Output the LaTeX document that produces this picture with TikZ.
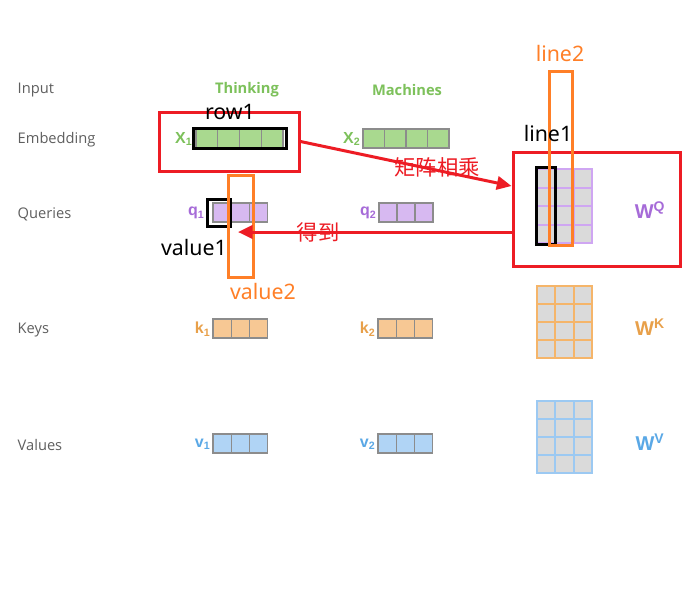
\documentclass[tikz,border=0pt]{standalone}
\usepackage{fontspec}
\setmainfont{Open Sans}
\newfontfamily\notefont{Noto Sans}
\newfontfamily\vecfont{Liberation Sans}
\newfontfamily\cjkfont{Noto Sans CJK SC}
\usetikzlibrary{arrows.meta, calc, fit, positioning}

\definecolor{rowgray}{HTML}{5F5F5F}
\definecolor{cellgray}{HTML}{8C8C8C}
\definecolor{matgray}{HTML}{DADADA}
\definecolor{embgreen}{HTML}{7DC15B}
\definecolor{embfill}{HTML}{A9D98F}
\definecolor{qpurple}{HTML}{A66BD8}
\definecolor{qfill}{HTML}{D7B9F1}
\definecolor{qline}{HTML}{CFA6F2}
\definecolor{korange}{HTML}{E8A04A}
\definecolor{kfill}{HTML}{F7C894}
\definecolor{kline}{HTML}{F5B56A}
\definecolor{vblue}{HTML}{5AA8E6}
\definecolor{vfill}{HTML}{B0D4F5}
\definecolor{vline}{HTML}{9CC9F2}
\definecolor{notered}{HTML}{ED1C24}
\definecolor{noteorange}{HTML}{FF7F27}

\tikzset{
  rowtext/.style={font=\fontsize{11}{13}\selectfont, text=rowgray, anchor=west},
  wordtext/.style={font=\fontsize{11}{13}\selectfont\bfseries},
  sublabel/.style={font=\vecfont\fontsize{12}{14}\selectfont\bfseries, anchor=east, inner sep=1pt},
  wlabel/.style={font=\vecfont\fontsize{15}{17}\selectfont\bfseries},
  cellline/.style={draw=cellgray, line width=0.8pt},
  notebox/.style={draw=#1, line width=2.25pt, inner sep=0pt},
  notetext/.style={font=\notefont\fontsize{16}{18}\selectfont, anchor=base},
  cjktext/.style={font=\cjkfont\fontsize{16}{18}\selectfont, text=notered},
  redarrow/.style={draw=notered, line width=2.25pt, -{Triangle[length=11pt,width=10pt]}}
}

% one row vector: top-left corner, number of cells, cell width, fill
\newcommand{\cellrow}[4]{%
  \foreach \k in {1,...,#2} {
    \draw[cellline, fill=#4] ($(#1)+(#3*\k-#3,0)$) rectangle ++(#3,19);
  }
}
% 3x4 weight matrix: top-left corner, border colour, row height
\newcommand{\cellgrid}[3]{%
  \foreach \c in {0,1,2} {
    \foreach \r in {0,...,3} {
      \draw[line width=1.5pt, draw=#2, fill=matgray] ($(#1)+(18.3*\c,#3*\r)$) rectangle ++(18.3,#3);
    }
  }
}

\begin{document}
\begin{tikzpicture}[x=0.75pt, y=-0.75pt]
      \fill[white] (0,0) rectangle (692,604);
      \useasboundingbox (0,0) rectangle (692,604);

      % row names
      \node[rowtext] (input) at (13,90) {Input};
      \node[rowtext] (embedding) at (13,140) {Embedding};
      \node[rowtext] (queries) at (13,214) {Queries};
      \node[rowtext] (keys) at (13,330) {Keys};
      \node[rowtext] (values) at (13,445) {Values};

      \node[wordtext, text=embgreen] (thinking) at (247,90) {Thinking};
      \node[wordtext, text=embgreen] (machines) at (407,90) {Machines};

      % red boxes
      \node[notebox=notered, fit={(159,112) (299,171)}] (embbox) {};
      \node[notebox=notered, fit={(513,152) (680,266)}] (wqbox) {};

      % vectors
      \cellrow{196,129}{4}{21.75}{embfill}
      \cellrow{363,129}{4}{21.5}{embfill}
      \node[sublabel, text=embgreen] (x1lab) at (194,139) {X\textsubscript{1}};
      \node[sublabel, text=embgreen] (x2lab) at (362,139) {X\textsubscript{2}};

      \cellrow{213,203}{3}{18.3}{qfill}
      \cellrow{379,203}{3}{18}{qfill}
      \node[sublabel, text=qpurple] (q1lab) at (206,213) {q\textsubscript{1}};
      \node[sublabel, text=qpurple] (q2lab) at (378,213) {q\textsubscript{2}};

      \cellrow{213,319}{3}{18.3}{kfill}
      \cellrow{378,319}{3}{18.3}{kfill}
      \node[sublabel, text=korange] (k1lab) at (212,329) {k\textsubscript{1}};
      \node[sublabel, text=korange] (k2lab) at (377,329) {k\textsubscript{2}};

      \cellrow{213,434}{3}{18.3}{vfill}
      \cellrow{378,434}{3}{18.3}{vfill}
      \node[sublabel, text=vblue] (v1lab) at (212,444) {v\textsubscript{1}};
      \node[sublabel, text=vblue] (v2lab) at (377,444) {v\textsubscript{2}};

      % weight matrices
      \cellgrid{537,169}{qline}{18.5}
      \cellgrid{537,286}{kline}{18}
      \cellgrid{537,401}{vline}{18}
      \node[wlabel, text=qpurple] (wq) at (650,210) {W\textsuperscript{Q}};
      \node[wlabel, text=korange] (wk) at (650,327) {W\textsuperscript{K}};
      \node[wlabel, text=vblue] (wv) at (650,442) {W\textsuperscript{V}};

      % black and orange marks
      \node[notebox=black, fit={(193,128) (286,148)}] (rowbox) {};
      \node[notebox=black, fit={(207,199) (230,226)}] (valbox) {};
      \node[notebox=black, fit={(536,167) (555,244)}] (colbox) {};
      \node[notebox=noteorange, fit={(228,175) (253,277)}] (val2box) {};
      \node[notebox=noteorange, fit={(549,71) (572,245)}] (col2box) {};

      \node[notetext] (row1) at (230,119) {row1};
      \node[notetext] (line1) at (548,141) {line1};
      \node[notetext, text=noteorange] (line2) at (560,61) {line2};
      \node[notetext] (value1) at (194,255) {value1};
      \node[notetext, text=noteorange] (value2) at (263,299) {value2};

      % arrows
      \coordinate (multtip) at ($(wqbox.west |- 0,186)$);
      \coordinate (gettip) at (238,232);
      \draw[redarrow] (embbox.east) -- (multtip);
      \draw[redarrow] (wqbox.west |- gettip) -- (gettip);
      \node[cjktext] (mult) at (437,167) {矩阵相乘};
      \node[cjktext] (get) at (318,232) {得到};
    \end{tikzpicture}
\end{document}
